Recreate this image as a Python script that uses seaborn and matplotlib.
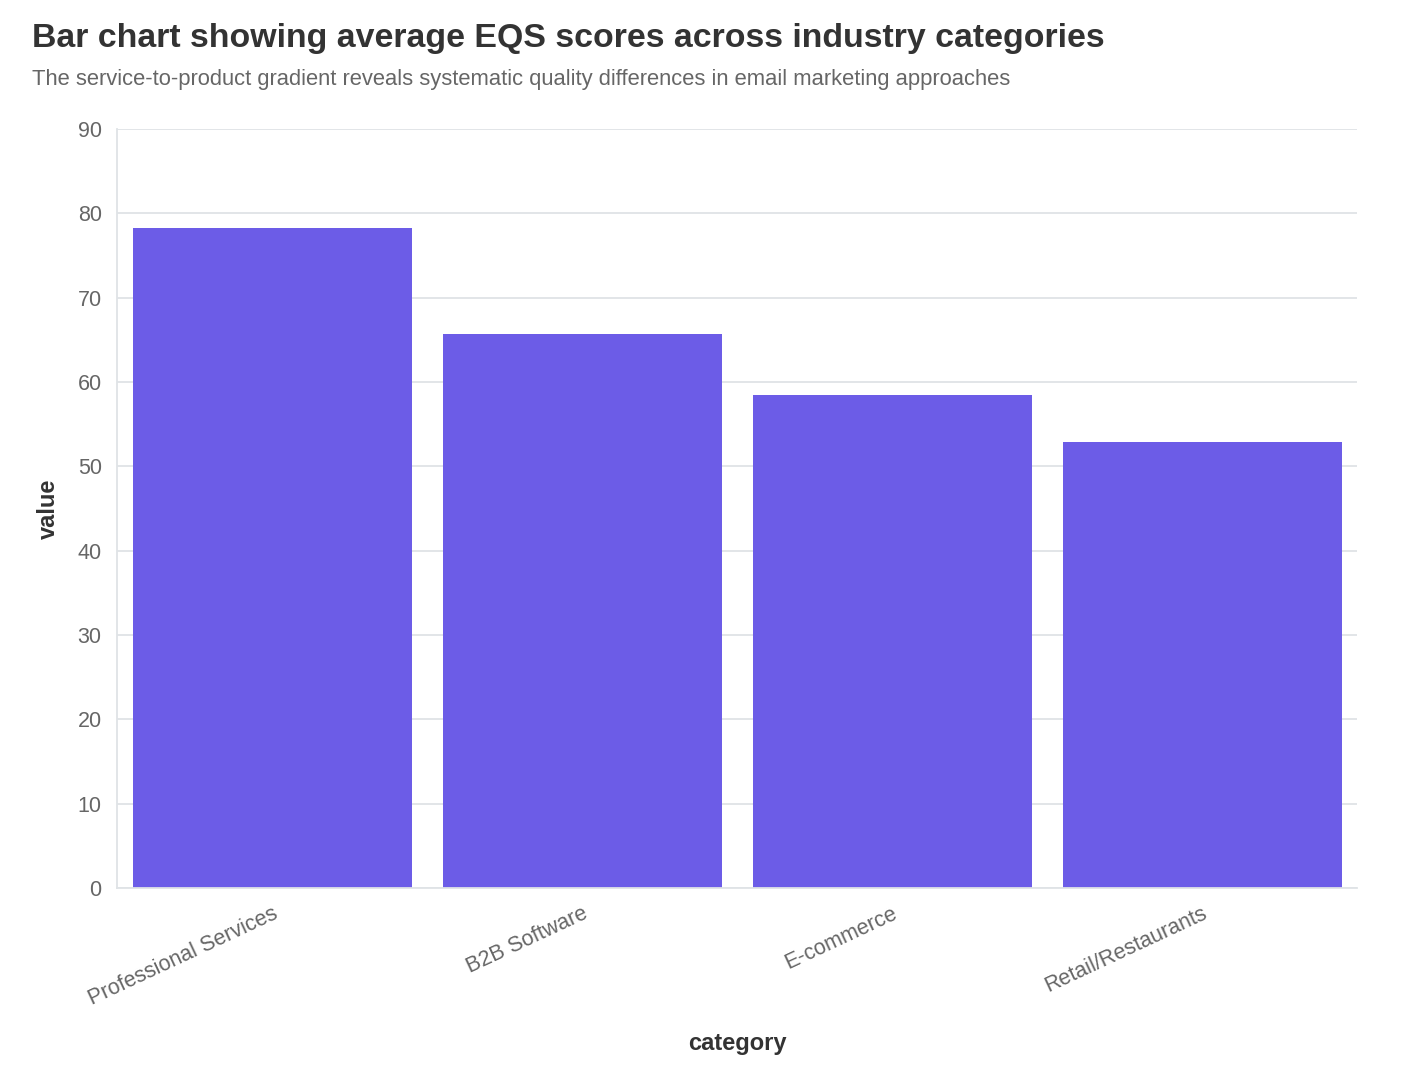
import pandas as pd
import matplotlib.pyplot as plt
import seaborn as sns

categories = ['Professional Services', 'B2B Software', 'E-commerce', 'Retail/Restaurants']
values = [78.3, 65.7, 58.4, 52.9]
yticks = [0, 10, 20, 30, 40, 50, 60, 70, 80, 90]

df = pd.DataFrame({'category': categories, 'value': values})

sns.set_style('white')
plt.rcParams['font.family'] = ['Liberation Sans', 'DejaVu Sans']

fig = plt.figure(figsize=(14.06, 10.84), dpi=100)
ax = fig.add_axes([117 / 1406, 1 - 888 / 1084, 1240 / 1406, 759 / 1084])

sns.barplot(data=df, x='category', y='value', color='#6c5ce7', width=0.9,
            saturation=1, ax=ax, zorder=2, edgecolor='none')

ax.set_xlim(-0.5, 3.5)
ax.set_ylim(0, 90)
ax.set_yticks(yticks)
ax.grid(axis='y', color='#dfe3e6', linewidth=1.3, zorder=0)
for s in ['top', 'right']:
    ax.spines[s].set_visible(False)
for s in ['left', 'bottom']:
    ax.spines[s].set_color('#dfe3e6')
    ax.spines[s].set_linewidth(1.3)
ax.tick_params(axis='y', length=7, color='#dfe3e6', width=1.3, labelsize=15.5,
               labelcolor='#666666', pad=4)
ax.tick_params(axis='x', length=7, color='#dfe3e6', width=1.3, labelsize=15.5,
               labelcolor='#666666', pad=4)
plt.setp(ax.get_xticklabels(), rotation=25, ha='right', rotation_mode='anchor')

ax.set_xlabel('category', fontsize=17, fontweight='bold', color='#333333', labelpad=16)
ax.set_ylabel('value', fontsize=17, fontweight='bold', color='#333333', labelpad=13)

fig.text(32 / 1406, 1 - 38 / 1084, 'Bar chart showing average EQS scores across industry categories',
         fontsize=24.4, fontweight='bold', color='#333333', va='center')
fig.text(32 / 1406, 1 - 79 / 1084,
         'The service-to-product gradient reveals systematic quality differences in email marketing approaches',
         fontsize=15.85, color='#666666', va='center')

plt.savefig('out.png', dpi=100)
